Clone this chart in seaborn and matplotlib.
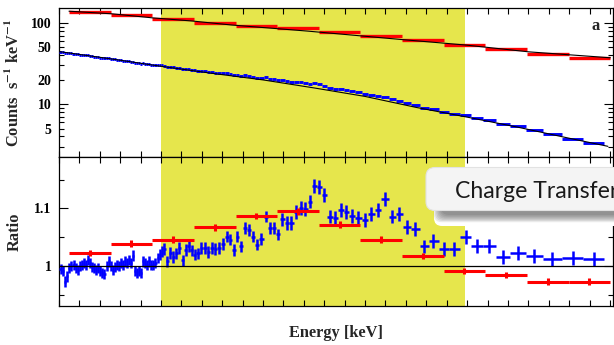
import numpy as np
import matplotlib
matplotlib.use("Agg")
import matplotlib.pyplot as plt
import matplotlib.ticker as mticker
from matplotlib.patches import FancyBboxPatch
from matplotlib.transforms import IdentityTransform
import seaborn as sns

# ---------------- data ----------------
blue_energy = [
    0.08, 0.20, 0.31, 0.41, 0.51, 0.60, 0.72, 0.82, 0.92, 1.03,
    1.13, 1.23, 1.32, 1.42, 1.52, 1.62, 1.73, 1.83, 1.93, 2.02,
    2.12, 2.22, 2.34, 2.44, 2.53, 2.63, 2.73, 2.83, 2.93, 3.02,
    3.12, 3.24, 3.33, 3.43, 3.53, 3.63, 3.73, 3.82, 3.92, 4.02,
    4.13, 4.23, 4.33, 4.43, 4.52, 4.62, 4.72, 4.84, 4.94, 5.03,
    5.16, 5.31, 5.46, 5.60, 5.75, 5.90, 6.06, 6.21, 6.36, 6.51,
    6.65, 6.80, 6.98, 7.14, 7.32, 7.50, 7.66, 7.86, 8.04, 8.22,
    8.40, 8.56, 8.74, 8.94, 9.13, 9.33, 9.53, 9.72, 9.92, 10.13,
    10.33, 10.53, 10.72,
    10.95, 11.16, 11.39, 11.63, 11.85, 12.07, 12.30, 12.52, 12.76, 13.01,
    13.28, 13.54, 13.81, 14.08, 14.38, 14.67, 14.99, 15.31, 15.62, 15.97,
    16.34, 16.67, 17.04, 17.45, 17.91, 18.35, 18.87, 19.36, 19.94, 20.49,
    21.06, 21.77, 22.48, 23.28, 24.17, 25.17, 26.20]

blue_counts = [
    43.95, 43.35, 42.19, 42.23, 42.49, 42.35, 42.02, 41.43, 40.98, 40.90,
    40.65, 40.44, 40.03, 40.06, 39.50, 38.91, 38.49, 38.06, 37.87, 37.40,
    36.99, 36.62, 36.78, 36.77, 36.22, 35.66, 35.54, 35.37, 34.99, 34.90,
    34.50, 34.35, 33.99, 33.90, 33.41, 33.55, 32.39, 32.04, 31.86, 31.50,
    31.83, 31.47, 31.10, 31.03, 30.60, 30.34, 30.17, 30.13, 30.05, 29.97,
    29.81, 28.83, 28.91, 28.40, 28.23, 28.14, 27.22, 27.38, 27.21, 26.71,
    26.24, 25.98, 25.84, 25.51, 24.98, 24.79, 24.46, 24.11, 23.95, 23.92,
    23.47, 22.79, 22.99, 22.27, 22.63, 22.23, 21.64, 21.04, 20.92, 21.32,
    20.55, 20.19, 19.64,
    19.71, 19.23, 18.84, 18.76, 18.50, 18.11, 17.95, 18.02, 17.59, 16.96,
    15.96, 15.54, 15.31, 14.88, 14.36, 13.93, 13.45, 13.06, 12.65, 12.32,
    11.44, 11.03, 10.32, 9.78, 9.01, 8.66, 8.07, 7.65, 7.32, 6.77,
    6.34, 5.73, 5.32, 4.79, 4.27, 3.77, 3.33]

blue_ratio = [
    0.995, 0.991, 0.973, 0.982, 0.996, 1.000, 1.002, 0.996, 0.993, 1.000,
    1.002, 1.005, 1.002, 1.011, 1.005, 0.998, 0.996, 0.993, 0.996, 0.991,
    0.988, 0.986, 1.000, 1.008, 1.000, 0.993, 0.998, 1.002, 1.000, 1.005,
    1.002, 1.008, 1.005, 1.011, 1.005, 1.018, 0.991, 0.988, 0.991, 0.988,
    1.008, 1.005, 1.002, 1.008, 1.002, 1.002, 1.005, 1.014, 1.020, 1.025,
    1.030, 1.008, 1.023, 1.016, 1.022, 1.031, 1.010, 1.028, 1.034, 1.027,
    1.020, 1.022, 1.031, 1.031, 1.024, 1.031, 1.030, 1.031, 1.038, 1.051,
    1.046, 1.028, 1.051, 1.034, 1.066, 1.063, 1.051, 1.037, 1.047, 1.086,
    1.066, 1.066, 1.055,
    1.081, 1.075, 1.075, 1.094, 1.101, 1.099, 1.112, 1.139, 1.138, 1.124,
    1.086, 1.084, 1.097, 1.094, 1.087, 1.084, 1.080, 1.090, 1.098, 1.117,
    1.086, 1.091, 1.068, 1.065, 1.034, 1.043, 1.030, 1.030, 1.051, 1.035,
    1.035, 1.016, 1.023, 1.018, 1.012, 1.014, 1.012]

blue_ratio_err = [0.009] * 50 + [0.010] * 33 + [0.012] * 20 + [0.012] * 17

red_energy = [1.51, 3.55, 5.59, 7.63, 9.67, 11.71, 13.75, 15.79, 17.83,
              19.87, 21.91, 23.95, 25.99]
red_halfwidth = 1.02
red_counts = [135, 127, 112, 101, 92.6, 86, 77.4, 69, 61.2, 53.5, 47.4,
              41.7, 37.3]
red_ratio = [1.023, 1.039, 1.046, 1.067, 1.087, 1.095, 1.072, 1.046,
             1.0175, 0.991, 0.984, 0.973, 0.973]
red_ratio_err = 0.0055

blue_model_energy = [0, 2.5, 5, 7.5, 10, 12.5, 15, 17.5, 20, 22.5, 25, 26.9]
blue_model = [44.5, 36.3, 29.3, 24.0, 19.9, 15.85, 12.45, 9.12, 6.92,
              5.19, 3.80, 3.02]
red_model_energy = [0.49, 2.6, 4.56, 6.52, 8.48, 12.2, 16.7, 19.95, 23.0,
                    27.02]
red_model = [140, 130, 116, 106, 94.5, 79.5, 62.9, 53.5, 44.2, 37.3]

band = (5.0, 19.9)
xlim = (0, 27.15)

# ---------------- style ----------------
sns.set_theme(style="ticks")
plt.rcParams["font.family"] = ["Liberation Serif", "DejaVu Serif"]
plt.rcParams["font.weight"] = "bold"
plt.rcParams["mathtext.fontset"] = "stix"
plt.rcParams["mathtext.default"] = "bf"
plt.rcParams["axes.linewidth"] = 0.9
plt.rcParams["axes.edgecolor"] = "black"

BLUE = "#0000ff"
RED = "#ff0000"
YELLOW = "#e6e64c"
LABEL_FS = 11.8

W, H = 614, 345
fig = plt.figure(figsize=(W / 100, H / 100), dpi=100)
L, R = 59, 613
ax_top = fig.add_axes([L / W, 1 - 157 / H, (R - L) / W, (157 - 8.3) / H])
ax_bot = fig.add_axes([L / W, 1 - 305.7 / H, (R - L) / W, (305.7 - 157) / H],
                      sharex=ax_top)

# bin half widths for blue
e = np.array(blue_energy)
mids = (e[1:] + e[:-1]) / 2
left = np.concatenate([[e[0] - (mids[0] - e[0])], mids])
right = np.concatenate([mids, [e[-1] + (e[-1] - mids[-1])]])
blue_xerr = np.vstack([e - left, right - e])

for ax in (ax_top, ax_bot):
    ax.axvspan(band[0], band[1], color=YELLOW, lw=0, zorder=0)

# --- top panel
ax_top.errorbar(blue_energy, blue_counts, xerr=blue_xerr, fmt="none",
                ecolor=BLUE, elinewidth=2.1, capsize=0, zorder=3)
ax_top.errorbar(red_energy, red_counts, xerr=red_halfwidth, fmt="none",
                ecolor=RED, elinewidth=2.4, capsize=0, zorder=3)
sns.lineplot(x=blue_model_energy, y=blue_model, color="black", lw=0.8,
             ax=ax_top, estimator=None, sort=False, zorder=4)
sns.lineplot(x=red_model_energy, y=red_model, color="black", lw=0.8,
             ax=ax_top, estimator=None, sort=False, zorder=4)
ax_top.set_yscale("log")
ax_top.set_ylim(2.23, 152)
ax_top.yaxis.set_major_locator(mticker.LogLocator(base=10))
ax_top.yaxis.set_minor_locator(mticker.LogLocator(base=10, subs=np.arange(2, 10)))
ax_top.yaxis.set_major_formatter(mticker.FuncFormatter(lambda v, p: f"{v:g}"))
ax_top.yaxis.set_minor_formatter(mticker.FuncFormatter(
    lambda v, p: f"{v:g}" if round(v, 6) in (5, 20, 50) else ""))
ax_top.set_ylabel(r"Counts  s$^{-1}$ keV$^{-1}$", fontsize=LABEL_FS,
                  fontweight="bold")

# --- bottom panel
ax_bot.errorbar(blue_energy, blue_ratio, xerr=blue_xerr, yerr=blue_ratio_err,
                fmt="none", ecolor=BLUE, elinewidth=1.8, capsize=0, zorder=3)
ax_bot.errorbar(red_energy, red_ratio, xerr=red_halfwidth, yerr=red_ratio_err,
                fmt="none", ecolor=RED, elinewidth=2.2, capsize=0, zorder=3)
sns.lineplot(x=list(xlim), y=[1.0, 1.0], color="black", lw=0.9, ax=ax_bot,
             estimator=None, zorder=5)
ax_bot.set_ylim(0.931, 1.1895)
ax_bot.yaxis.set_major_locator(mticker.FixedLocator([1.0, 1.1]))
ax_bot.yaxis.set_major_formatter(mticker.FixedFormatter(["1", "1.1"]))
ax_bot.yaxis.set_minor_locator(mticker.FixedLocator([0.95, 1.05, 1.15]))
ax_bot.set_ylabel("Ratio", fontsize=LABEL_FS, fontweight="bold")
ax_bot.set_xlabel("Energy [keV]", fontsize=LABEL_FS, fontweight="bold")

ax_top.set_xlim(*xlim)
ax_bot.xaxis.set_major_locator(mticker.MultipleLocator(1))
for ax in (ax_top, ax_bot):
    ax.tick_params(which="both", direction="in", top=True, right=True,
                   width=0.8, colors="black")
    ax.tick_params(axis="x", which="both", length=4.5, labelbottom=False,
                   labeltop=False)
    ax.tick_params(axis="y", which="major", length=6.5, pad=5.5,
                   labelsize=10)
    ax.tick_params(axis="y", which="minor", length=3.5, pad=5.5,
                   labelsize=10)
    for lab in ax.get_yticklabels(which="both"):
        lab.set_fontweight("bold")
    ax.yaxis.set_label_coords(-0.065, 0.5)
    ax.grid(False)

ax_bot.xaxis.set_label_coords(0.5, -0.13)
ax_bot.xaxis.label.set_va("top")

fig.text(596 / W, 1 - 26 / H, "a", ha="center", va="center", fontsize=12,
         fontweight="bold")

# --- "Charge Transfer" overlay box with shadow (pixel coordinates)
ident = IdentityTransform()
def px_box(x0, y0, x1, y1, **kw):
    # image coords (y down) -> display coords (y up)
    return FancyBboxPatch((x0, H - y1), x1 - x0, y1 - y0,
                          transform=ident, **kw)

fig.add_artist(px_box(434, 176, 700, 226,
                      boxstyle="round,pad=0,rounding_size=8",
                      facecolor="white", edgecolor="none", zorder=10))
for i in range(7):
    g = i * 1.2
    fig.add_artist(px_box(441 - g, 182 - g, 700, 215 + g,
                          boxstyle="round,pad=0,rounding_size=8",
                          facecolor="#404040", edgecolor="none",
                          alpha=0.11, zorder=11))
fig.add_artist(px_box(426, 167.5, 700, 210.5,
                      boxstyle="round,pad=0,rounding_size=9",
                      facecolor="#f4f4f4", edgecolor="#e2e2e2", lw=0.8,
                      zorder=12))
fig.text(455 / W, 1 - 197.5 / H, "Charge Transfer", fontsize=16.6,
         family=["Lato", "DejaVu Sans"], fontweight="normal",
         color="#1a1a1a", va="baseline", ha="left", zorder=13)

fig.savefig("out.png", dpi=100)
